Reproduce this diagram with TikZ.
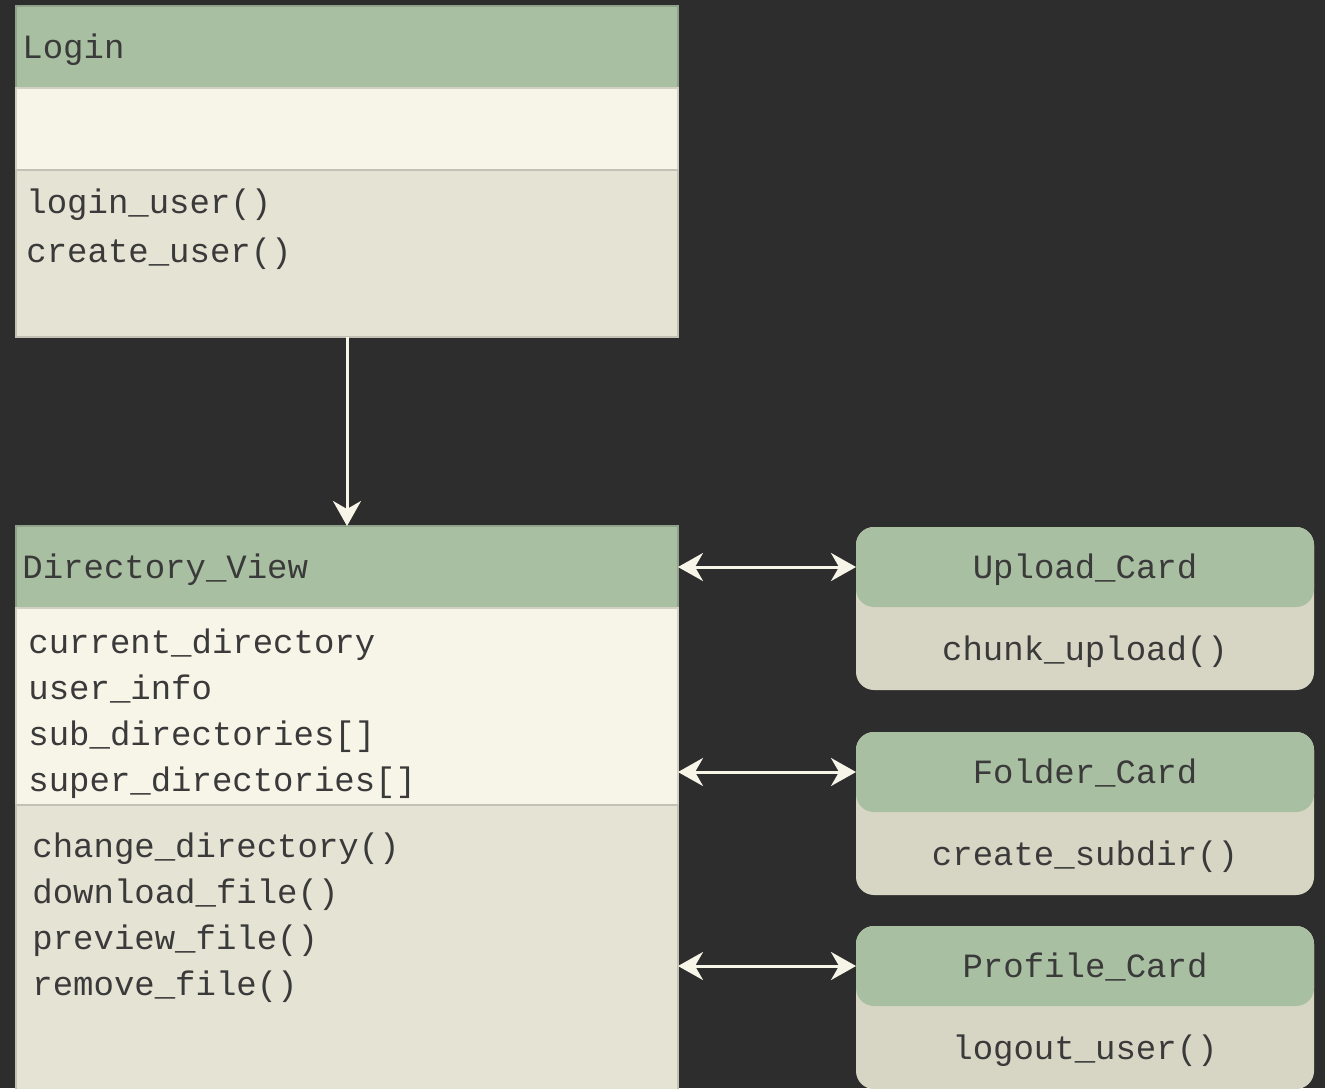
\documentclass[tikz,border=0pt]{standalone}
\usepackage{fontspec}
\setmonofont{Liberation Mono}
\usetikzlibrary{positioning,arrows.meta}
\definecolor{bgdark}{HTML}{2D2D2D}
\definecolor{hdgreen}{HTML}{A9BFA2}
\definecolor{attrcream}{HTML}{F6F5E8}
\definecolor{methgray}{HTML}{E4E3D4}
\definecolor{cardgray}{HTML}{D7D6C4}
\definecolor{txtgray}{HTML}{3A3A3A}
\definecolor{arrowcream}{HTML}{F6F5E8}
\tikzset{
  compart/.style={draw=#1!85!black, line width=0.6pt, fill=#1, minimum width=331pt,
    anchor=north west, inner sep=0pt, outer sep=0pt},
  txt/.style={font=\ttfamily\fontsize{17}{20}\selectfont, text=txtgray, inner sep=0pt, anchor=base west},
  cardtxt/.style={txt, anchor=base},
  cardbody/.style={fill=cardgray, rounded corners=9pt, minimum width=229pt, minimum height=81.5pt,
    anchor=north west, inner sep=0pt, outer sep=0pt},
  cardhead/.style={cardbody, fill=hdgreen, minimum height=40pt},
  link/.style={draw=arrowcream, line width=1.5pt, -{Stealth[length=12.5pt,width=14pt,inset=4pt]}},
  dbl/.style={link, {Stealth[length=12.5pt,width=14pt,inset=4pt]}-{Stealth[length=12.5pt,width=14pt,inset=4pt]}}
}
\begin{document}
\begin{tikzpicture}[x=0.5pt,y=-0.5pt]
    \fill[bgdark] (0,0) rectangle (1325,1088);
    \useasboundingbox (0,0) rectangle (1325,1088);
    % Login class
    \node[compart=hdgreen, minimum height=41pt] (loginhead) at (16,6) {};
    \node[compart=attrcream, minimum height=41pt, below=0pt of loginhead] (loginattr) {};
    \node[compart=methgray, minimum height=83.5pt, below=0pt of loginattr] (loginmeth) {};
    \node[txt] (logintitle) at (22,58) {Login};
    \node[txt] (loginm1) at (26,213) {login\_user()};
    \node[txt] (loginm2) at (26,262) {create\_user()};
    % Directory_View class
    \node[compart=hdgreen, minimum height=41pt] (dvhead) at (16,526) {};
    \node[compart=attrcream, minimum height=98.5pt, below=0pt of dvhead] (dvattr) {};
    \node[compart=methgray, minimum height=160pt, below=0pt of dvattr] (dvmeth) {};
    \node[txt] (dvtitle) at (22,578) {Directory\_View};
    \foreach \t [count=\i] in {current\_directory, user\_info, sub\_directories[], super\_directories[]}
        \node[txt] (dvattr\i) at (28,607+46*\i) {\t};
    \foreach \t [count=\i] in {change\_directory(), download\_file(), preview\_file(), remove\_file()}
        \node[txt] (dvmeth\i) at (32,811+46*\i) {\t};
    % cards
    \foreach \name/\meth/\top in {Upload/chunk\_upload()/527, Folder/create\_subdir()/732, Profile/logout\_user()/926}{
        \node[cardbody] (\name body) at (856,\top) {};
        \node[cardhead] (\name head) at (856,\top) {};
        \node[cardtxt] (\name title) at (1085,\top+51) {\name\_Card};
        \node[cardtxt] (\name meth) at (1085,\top+133) {\meth};
    }
    % connectors
    \draw[link] (loginmeth.south) -- (dvhead.north);
    \draw[dbl] (dvhead.east) -- (Uploadhead.west);
    \draw[dbl] (Folderhead.west -| dvattr.east) -- (Folderhead.west);
    \draw[dbl] (Profilehead.west -| dvmeth.east) -- (Profilehead.west);
\end{tikzpicture}
\end{document}
